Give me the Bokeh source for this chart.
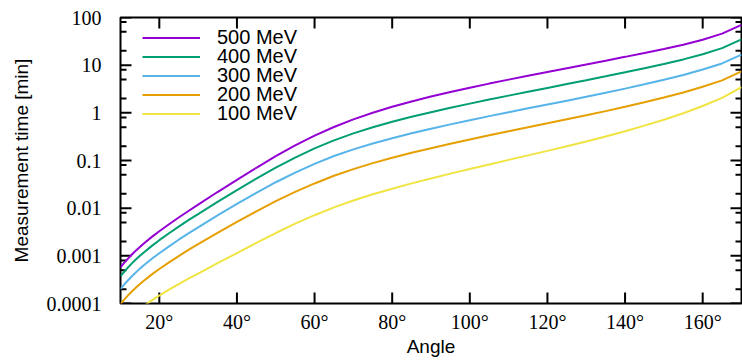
from bokeh.plotting import figure
from bokeh.models import FixedTicker, Range1d, Legend, LegendItem
from bokeh.embed import file_html
from bokeh.resources import INLINE

# ---- data ----
angles = [10, 11, 12, 13, 14, 15, 16, 18, 20, 22.5, 25, 27.5, 30, 35, 40, 45, 50, 55, 60,
          65, 70, 75, 80, 85, 90, 95, 100, 105, 110, 115, 120, 125, 130, 135, 140,
          145, 150, 155, 160, 165, 170]
time_500 = [5.74e-4, 7.18e-4, 8.86e-4, 1.08e-3, 1.30e-3, 1.54e-3, 1.82e-3, 2.47e-3, 3.28e-3,
            4.60e-3, 6.37e-3, 8.72e-3, 0.0119, 0.0218, 0.0394, 0.0704, 0.123, 0.207, 0.332,
            0.505, 0.728, 1.005, 1.338, 1.732, 2.194, 2.733, 3.364, 4.104, 4.973, 5.993, 7.197,
            8.632, 10.34, 12.41, 14.94, 18.03, 21.87, 26.92, 34.06, 45.79, 69.86]
time_400 = [3.75e-4, 4.69e-4, 5.79e-4, 7.03e-4, 8.46e-4, 1.005e-3, 1.18e-3, 1.60e-3, 2.13e-3,
            2.97e-3, 4.10e-3, 5.60e-3, 7.51e-3, 0.0135, 0.0240, 0.0416, 0.0708, 0.115, 0.179,
            0.264, 0.371, 0.499, 0.648, 0.828, 1.033, 1.278, 1.561, 1.900, 2.297, 2.768, 3.325,
            4.006, 4.825, 5.833, 7.071, 8.636, 10.60, 13.21, 16.92, 22.74, 34.69]
time_300 = [2.02e-4, 2.53e-4, 3.11e-4, 3.78e-4, 4.54e-4, 5.39e-4, 6.34e-4, 8.57e-4, 1.135e-3,
            1.58e-3, 2.18e-3, 2.96e-3, 3.95e-3, 7.04e-3, 0.0123, 0.0210, 0.0350, 0.0559, 0.0851,
            0.124, 0.171, 0.228, 0.294, 0.373, 0.464, 0.573, 0.701, 0.853, 1.031, 1.242, 1.492,
            1.797, 2.165, 2.636, 3.220, 3.979, 4.944, 6.233, 8.083, 10.86, 16.58]
time_200 = [9.81e-5, 1.22e-4, 1.50e-4, 1.81e-4, 2.17e-4, 2.56e-4, 3.00e-4, 4.03e-4, 5.29e-4,
            7.28e-4, 9.90e-4, 1.33e-3, 1.76e-3, 3.04e-3, 5.17e-3, 8.58e-3, 0.0140, 0.0220, 0.0330,
            0.0479, 0.0658, 0.0880, 0.114, 0.145, 0.181, 0.225, 0.276, 0.338, 0.410, 0.498, 0.602,
            0.731, 0.886, 1.087, 1.337, 1.669, 2.094, 2.679, 3.523, 4.795, 7.403]
angles_100 = [15, 16, 18, 20, 22.5, 25, 27.5, 30, 35, 40, 45, 50, 55, 60,
              65, 70, 75, 80, 85, 90, 95, 100, 105, 110, 115, 120, 125, 130, 135, 140,
              145, 150, 155, 160, 165, 170]
time_100 = [7.67e-5, 8.86e-5, 1.15e-4, 1.47e-4, 1.95e-4, 2.56e-4, 3.32e-4, 4.23e-4, 7.00e-4,
            1.14e-3, 1.87e-3, 3.01e-3, 4.74e-3, 7.12e-3, 0.0104, 0.0145, 0.0196, 0.0256, 0.0331,
            0.0419, 0.0530, 0.0661, 0.0827, 0.103, 0.128, 0.159, 0.199, 0.250, 0.320, 0.410,
            0.539, 0.714, 0.981, 1.388, 2.060, 3.469]

series_labels = ["500 MeV", "400 MeV", "300 MeV", "200 MeV", "100 MeV"]
series_colors = ["#9400d3", "#009e73", "#56b4e9", "#e69f00", "#f0e442"]

x_min, x_max = 10, 170
y_min, y_max = 1e-4, 100
x_tick_values = [20, 40, 60, 80, 100, 120, 140, 160]
x_tick_labels = ["20°", "40°", "60°", "80°", "100°", "120°", "140°", "160°"]
y_tick_values = [1e-4, 1e-3, 1e-2, 1e-1, 1, 10, 100]
y_tick_labels = ["0.0001", "0.001", "0.01", "0.1", "1", "10", "100"]
y_minor_ticks = [2e-4, 5e-4, 8e-4, 2e-3, 5e-3, 8e-3, 2e-2, 5e-2, 8e-2,
                 0.2, 0.5, 0.8, 2, 5, 8, 20, 50, 80]

SERIF = "Liberation Serif"
SANS = "Liberation Sans"

W, H = 742, 360
BORDER_L, BORDER_R, BORDER_T, BORDER_B = 120, 1, 17, 57
MAJOR_LEN, MINOR_LEN = 11, 6          # inward tick lengths in px

p = figure(width=W, height=H, x_range=Range1d(x_min, x_max), y_range=Range1d(y_min, y_max),
           y_axis_type="log", output_backend="svg", toolbar_location=None,
           min_border_left=BORDER_L, min_border_right=BORDER_R,
           min_border_top=BORDER_T, min_border_bottom=BORDER_B)
p.grid.visible = False
p.outline_line_color = "black"
p.outline_line_width = 2
p.background_fill_color = "white"
p.border_fill_color = "white"

# ---- inward tick marks on all four sides (mirrored like gnuplot) ----
px_per_x = (W - BORDER_L - BORDER_R) / (x_max - x_min)
px_per_decade = (H - BORDER_T - BORDER_B) / 6.0
dx_major = MAJOR_LEN / px_per_x
dx_minor = MINOR_LEN / px_per_x
fy_major = 10 ** (MAJOR_LEN / px_per_decade)

# each tick as its own small two-point line
for v in y_tick_values:
    p.line([x_min, x_min + dx_major], [v, v], line_color="black", line_width=2)
    p.line([x_max, x_max - dx_major], [v, v], line_color="black", line_width=2)
for v in y_minor_ticks:
    p.line([x_min, x_min + dx_minor], [v, v], line_color="black", line_width=2)
    p.line([x_max, x_max - dx_minor], [v, v], line_color="black", line_width=2)
for v in x_tick_values:
    p.line([v, v], [y_min, y_min * fy_major], line_color="black", line_width=2)
    p.line([v, v], [y_max, y_max / fy_major], line_color="black", line_width=2)

xs_all = [angles, angles, angles, angles, angles_100]
ys_all = [time_500, time_400, time_300, time_200, time_100]
renderers = []
for xs, ys, col in zip(xs_all, ys_all, series_colors):
    r = p.line(xs, ys, line_color=col, line_width=2)
    renderers.append(r)

xticker = FixedTicker(ticks=x_tick_values, minor_ticks=[])
yticker = FixedTicker(ticks=y_tick_values, minor_ticks=y_minor_ticks)


def style_axis(ax):
    ax.axis_line_color = None
    ax.major_tick_in = 0
    ax.major_tick_out = 0
    ax.minor_tick_in = 0
    ax.minor_tick_out = 0
    ax.major_tick_line_color = None
    ax.minor_tick_line_color = None


xa = p.xaxis[0]
xa.ticker = xticker
style_axis(xa)
xa.major_label_overrides = dict(zip(x_tick_values, x_tick_labels))
xa.major_label_text_font = SERIF
xa.major_label_text_font_size = "20px"
xa.major_label_text_color = "black"
xa.major_label_standoff = 7
xa.axis_label = "Angle"
xa.axis_label_text_font = SANS
xa.axis_label_text_font_size = "19px"
xa.axis_label_text_font_style = "normal"
xa.axis_label_text_color = "black"
xa.axis_label_standoff = 0

ya = p.yaxis[0]
ya.ticker = yticker
style_axis(ya)
ya.major_label_overrides = dict(zip(y_tick_values, y_tick_labels))
ya.major_label_text_font = SERIF
ya.major_label_text_font_size = "20px"
ya.major_label_text_color = "black"
ya.major_label_standoff = 19
ya.axis_label = "Measurement time [min]"
ya.axis_label_text_font = SANS
ya.axis_label_text_font_size = "19px"
ya.axis_label_text_font_style = "normal"
ya.axis_label_text_color = "black"
ya.axis_label_standoff = 12

# one single-item legend per series so the rows can sit 19 px apart
legend_y = [254, 235, 216, 197, 178]
for lab, r, ly in zip(series_labels, renderers, legend_y):
    lg = Legend(items=[LegendItem(label=lab, renderers=[r])], location=(22, ly),
                label_text_font=SANS, label_text_font_size="20px", label_text_color="black",
                glyph_width=58, glyph_height=19, label_height=19, spacing=0, padding=0, margin=0,
                label_standoff=17, border_line_color=None, background_fill_alpha=0)
    p.add_layout(lg)

open("out.html", "w").write(file_html(p, INLINE))
